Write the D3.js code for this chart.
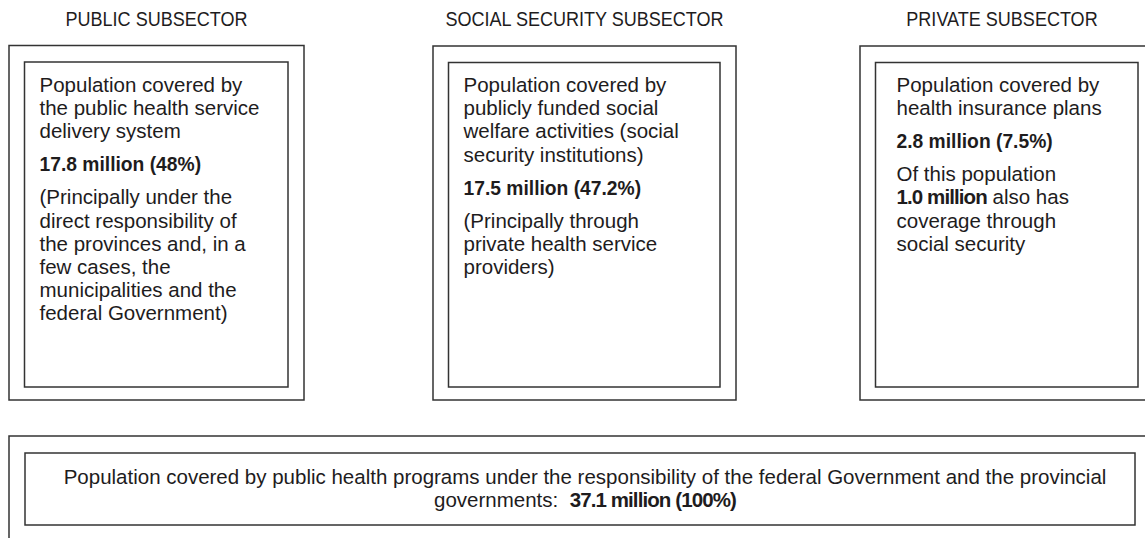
<!DOCTYPE html>
<html>
<head>
<meta charset="utf-8">
<script src="https://cdn.jsdelivr.net/npm/d3@7"></script>
<style>
  html, body { margin: 0; padding: 0; background: #fff; }
  svg { display: block; }
  text { font-family: "Liberation Sans", Arial, sans-serif; fill: #1e1c1d; white-space: pre; }
</style>
</head>
<body>
<svg id="chart" width="1145" height="538"></svg>
<script>
// ---- data ----
const subsectors = ["PUBLIC SUBSECTOR", "SOCIAL SECURITY SUBSECTOR", "PRIVATE SUBSECTOR"];

const descriptions = [
  ["Population covered by", "the public health service", "delivery system"],
  ["Population covered by", "publicly funded social", "welfare activities (social", "security institutions)"],
  ["Population covered by", "health insurance plans"]
];

const amounts = ["17.8 million (48%)", "17.5 million (47.2%)", "2.8 million (7.5%)"];

const notes = [
  [[["(Principally under the", false]], [["direct responsibility of", false]], [["the provinces and, in a", false]],
   [["few cases, the", false]], [["municipalities and the", false]], [["federal Government)", false]]],
  [[["(Principally through", false]], [["private health service", false]], [["providers)", false]]],
  [[["Of this population", false]], [["1.0 million", true], [" also has", false]], [["coverage through", false]], [["social security", false]]]
];

const totalLines = [
  [["Population covered by public health programs under the responsibility of the federal Government and the provincial", false]],
  [["governments:  ", false], ["37.1 million (100%)", true]]
];

// ---- layout ----
const svg = d3.select("#chart");
const outerBoxes = [
  {x: 9, y: 45.5, w: 295, h: 354.5},
  {x: 433, y: 46, w: 303, h: 354},
  {x: 860, y: 46, w: 290, h: 354}
];
const inset = {l: 15.5, t: 16.5, r: 16, b: 13};
const textPad = [15, 15, 22];
const lineStep = 23.2;
const paraGap = 9.8;
const firstBaseline = 92;
const stroke = "#333";
const bodySize = 20.5;

// one <text> per paragraph; lines are tspans
function drawPara(x, y, lines, size, anchor, sx) {
  const t = svg.append("text")
    .attr("transform", `translate(${x},${y}) scale(${sx || 1},1)`)
    .attr("text-anchor", anchor || "start")
    .style("font-size", size + "px");
  lines.forEach((segs, li) => {
    segs.forEach((s, si) => {
      const ts = t.append("tspan").text(s[0]).style("font-weight", s[1] ? "bold" : "normal");
      if (s[1] && segs.length > 1) ts.style("letter-spacing", "-0.9px");
      if (si === 0) ts.attr("x", 0).attr("dy", li === 0 ? 0 : lineStep);
    });
  });
  return lines.length;
}

// titles
subsectors.forEach((d, i) => {
  const b = outerBoxes[i];
  drawPara(b.x + b.w / 2 - (i === 2 ? 3 : 0), 26, [[[d, false]]], 20.5, "middle", 0.88);
});

// boxes
outerBoxes.forEach((b, i) => {
  svg.append("rect").attr("x", b.x).attr("y", b.y).attr("width", b.w).attr("height", b.h)
    .attr("fill", "none").attr("stroke", stroke).attr("stroke-width", 1.5);
  const ix = b.x + inset.l, iy = b.y + inset.t;
  const iw = (i === 2 ? 1138 - ix : b.w - inset.l - inset.r);
  const ih = b.h - inset.t - inset.b;
  svg.append("rect").attr("x", ix).attr("y", iy).attr("width", iw).attr("height", ih)
    .attr("fill", "none").attr("stroke", stroke).attr("stroke-width", 1.5);
});

subsectors.forEach((_, i) => {
  const x = outerBoxes[i].x + inset.l + textPad[i] - (i === 2 ? 1 : 0);
  let y = firstBaseline;
  const n1 = drawPara(x, y, descriptions[i].map(l => [[l, false]]), bodySize);
  y += (n1 - 1) * lineStep + lineStep + paraGap;
  drawPara(x, y, [[[amounts[i], true]]], bodySize, "start", 0.94);
  y += lineStep + paraGap;
  drawPara(x, y, notes[i], bodySize);
});

// bottom total box
svg.append("rect").attr("x", 9).attr("y", 436).attr("width", 1150).attr("height", 120)
  .attr("fill", "none").attr("stroke", stroke).attr("stroke-width", 1.5);
svg.append("rect").attr("x", 25).attr("y", 453).attr("width", 1110).attr("height", 72)
  .attr("fill", "none").attr("stroke", stroke).attr("stroke-width", 1.5);
drawPara(585, 484, totalLines, bodySize, "middle");
</script>
</body>
</html>
